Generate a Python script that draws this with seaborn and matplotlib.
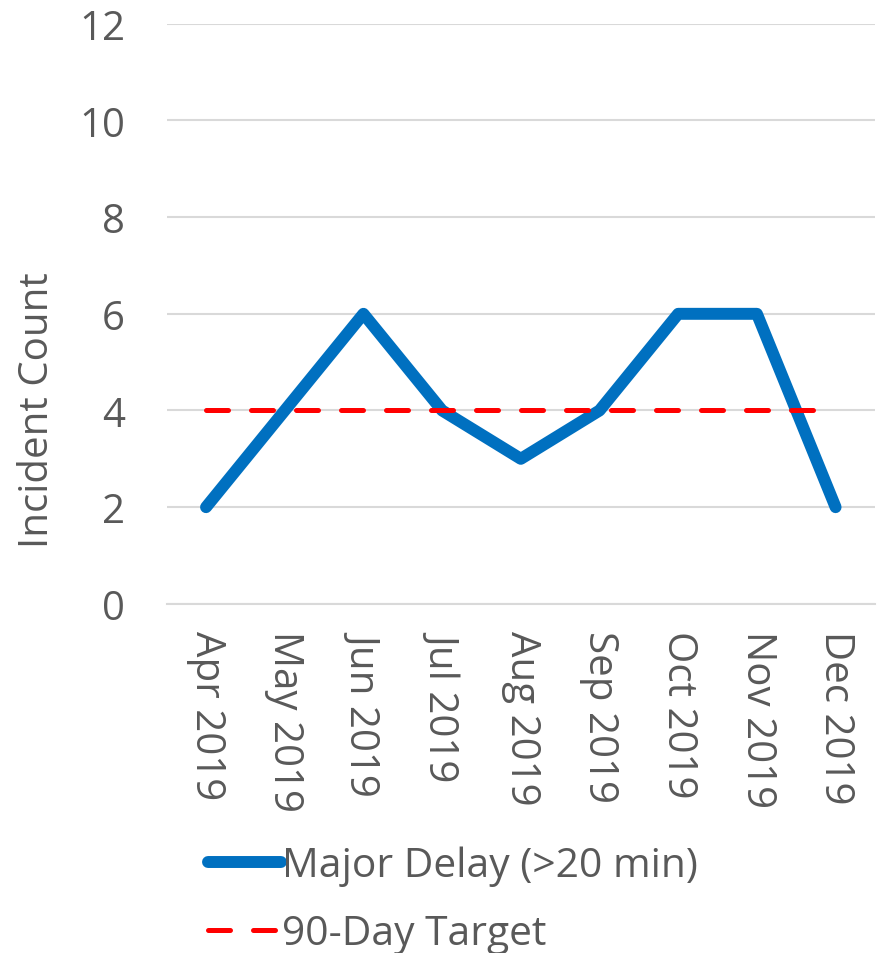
import numpy as np
import pandas as pd
import seaborn as sns
import matplotlib.pyplot as plt
from matplotlib.lines import Line2D

# data
months = ["Apr 2019", "May 2019", "Jun 2019", "Jul 2019", "Aug 2019",
          "Sep 2019", "Oct 2019", "Nov 2019", "Dec 2019"]
major_delay = [2, 4, 6, 4, 3, 4, 6, 6, 2]
target = [4, 4, 4, 4, 4, 4, 4, 4, 4]

df = pd.DataFrame({"month": months, "delay": major_delay, "target": target})

sns.set_style("white")
plt.rcParams["font.family"] = ["Open Sans", "DejaVu Sans"]

text_col = "#595959"
grid_col = "#d9d9d9"
blue = "#0070c0"
red = "#ff0000"
red_dash = (4.4, 4.6)

fig = plt.figure(figsize=(8.82, 9.54), dpi=100)
ax = fig.add_axes([0.189, 0.366, 0.803, 0.608])

sns.lineplot(data=df, x="month", y="delay", sort=False, ax=ax, color=blue,
             linewidth=8.6, solid_capstyle="round", solid_joinstyle="round")
sns.lineplot(data=df, x="month", y="target", sort=False, ax=ax, color=red,
             linewidth=3.6, dashes=False)
ax.lines[-1].set_dashes(red_dash)
ax.lines[-1].set_dash_capstyle("round")

n = len(months)
ax.set_xlim(-0.5, n - 0.5)
ax.set_ylim(0, 12)
ax.set_yticks(range(0, 13, 2))
ax.set_xticks(range(n))
ax.set_xticklabels(months, rotation=-90, va="top", ha="center")
ax.set_xticks(np.arange(-0.5, n, 1), minor=True)

ax.yaxis.grid(True, color=grid_col, linewidth=1.5)
ax.set_axisbelow(True)
for s in ["left", "top", "right"]:
    ax.spines[s].set_visible(False)
ax.spines["bottom"].set_color(grid_col)
ax.spines["bottom"].set_linewidth(1.5)

ax.tick_params(axis="y", length=0, pad=30, labelsize=29, labelcolor=text_col)
ax.tick_params(axis="x", which="major", length=0, pad=19, labelsize=29,
               labelcolor=text_col)
ax.tick_params(axis="x", which="minor", length=9, width=1.5, color=grid_col)

ax.set_xlabel("")
ax.set_ylabel("Incident Count", fontsize=29, color=text_col)
ax.yaxis.set_label_coords(-0.154, 0.335)

handles = [
    Line2D([], [], color=blue, linewidth=8.6, solid_capstyle="round"),
    Line2D([], [], color=red, linewidth=3.6, dashes=red_dash,
           dash_capstyle="round"),
]
leg = fig.legend(handles, ["Major Delay (>20 min)", "90-Day Target"],
                 loc="upper left", bbox_to_anchor=(0.213, 0.134),
                 frameon=False, fontsize=29.3, handlelength=1.8,
                 handletextpad=0.02, labelspacing=0.68, borderpad=0)
for t in leg.get_texts():
    t.set_color(text_col)

fig.savefig("out.png", dpi=100)
